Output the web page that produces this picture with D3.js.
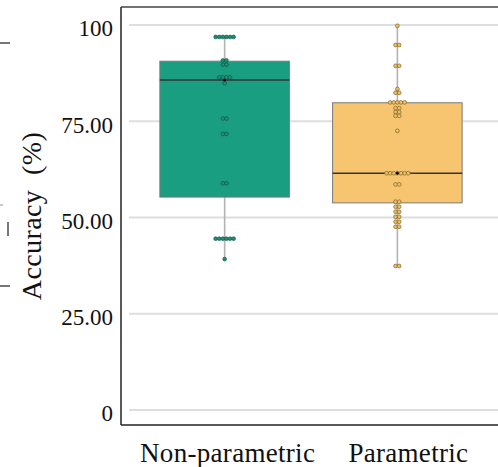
<!DOCTYPE html>
<html><head><meta charset="utf-8">
<script src="https://cdn.jsdelivr.net/npm/d3@7"></script>
<style>body{margin:0;background:#fff;overflow:hidden}</style></head>
<body>
<svg id="c" width="498" height="467"></svg>
<script>
// ---- data ----
const categories = ["Non-parametric", "Parametric"];
const nonParametric = [96.9,96.9,96.9,96.9,96.9,96.9, 90.8,90.8, 89.7,89.7, 86.4,86.4,86.4,86.4, 84.9,
  75.7,75.7, 71.7,71.7, 58.9,58.9, 44.5,44.5,44.5,44.5,44.5,44.5, 39.2];
const parametric = [99.8, 94.8,94.8, 89.4,89.4, 83.4, 82.4,82.4, 79.9,79.9,79.9,79.9,79.9,
  78.4,78.4, 77.4,77.4, 76.4,76.4, 72.5, 61.5,61.5,61.5,61.5,61.5,61.5,61.5, 58.6,58.6,
  54.1,54.1, 52.8,52.8, 51.5,51.5, 50.2,50.2, 48.9,48.9, 47.6,47.6, 37.4,37.4];
const q1 = [55.3, 53.8];
const medians = [85.7, 61.5];
const q3 = [90.6, 79.8];
const whiskerLow = [39.2, 37.4];
const whiskerHigh = [96.9, 99.8];
const yTicks = [0, 25, 50, 75, 100];
const yTickLabels = ["0", "25.00", "50.00", "75.00", "100"];
const yTitle = "Accuracy  (%)";
const fills = ["#1a9e82", "#f7c56f"];
const dotFills = ["#1f8f76", "#efc063"];
const dotStrokes = ["#0d4f40", "#6b5524"];

// ---- layout ----
const svg = d3.select("#c");
const fLeft = 121, fTop = 7, fBottom = 425, fRight = 498;
const y = d3.scaleLinear().domain([0, 100]).range([410, 25]);
const x = d3.scaleBand().domain(categories).range([121, 501]).paddingInner(0.25).paddingOuter(0.225);
const serif = "'Liberation Serif','Times New Roman',serif";
const labelShift = [3, 11];

// fragments of neighbouring panel at the left edge
const frag = svg.append("g").attr("stroke", "#555").attr("stroke-width", 1.6);
frag.append("line").attr("x1", 0).attr("x2", 10).attr("y1", 43).attr("y2", 43);
frag.append("line").attr("x1", 0).attr("x2", 3).attr("y1", 205).attr("y2", 205).attr("stroke", "#bbb");
frag.append("line").attr("x1", 8).attr("x2", 8).attr("y1", 222).attr("y2", 236);
frag.append("line").attr("x1", 0).attr("x2", 10).attr("y1", 286).attr("y2", 286);

// gridlines
svg.append("g").selectAll("line").data(yTicks).join("line")
  .attr("x1", 129).attr("x2", fRight)
  .attr("y1", d => y(d)).attr("y2", d => y(d))
  .attr("stroke", "#dedede").attr("stroke-width", 2);

// y axis (labels only; frame drawn separately)
const yAxis = d3.axisLeft(y).tickValues(yTicks).tickSize(0).tickPadding(0)
  .tickFormat((d, i) => yTickLabels[i]);
const ya = svg.append("g").attr("transform", `translate(113,0)`).call(yAxis);
ya.select(".domain").remove();
ya.selectAll("text").attr("font-family", serif).attr("font-size", 23).attr("fill", "#111")
  .attr("dy", "0.47em").attr("x", 0);

// y title
svg.append("text").attr("transform", "translate(41,216) rotate(-90)")
  .attr("text-anchor", "middle").attr("font-family", serif).attr("font-size", 28)
  .attr("letter-spacing", 0.4)
  .attr("fill", "#111").style("white-space", "pre").text(yTitle);

// boxes
const cats = categories.map((c, i) => ({c, i}));
const g = svg.append("g");
g.selectAll("line.wh").data(cats).join("line").attr("class", "wh")
  .attr("x1", d => x(d.c) + x.bandwidth() / 2).attr("x2", d => x(d.c) + x.bandwidth() / 2)
  .attr("y1", d => y(whiskerLow[d.i])).attr("y2", d => y(whiskerHigh[d.i]))
  .attr("stroke", "#b3b3b3").attr("stroke-width", 1.6);
g.selectAll("rect").data(cats).join("rect")
  .attr("x", d => x(d.c)).attr("width", x.bandwidth())
  .attr("y", d => y(q3[d.i])).attr("height", d => y(q1[d.i]) - y(q3[d.i]))
  .attr("fill", d => fills[d.i]).attr("stroke", "#7a7a7a").attr("stroke-width", 1);
g.selectAll("line.med").data(cats).join("line").attr("class", "med")
  .attr("x1", d => x(d.c)).attr("x2", d => x(d.c) + x.bandwidth())
  .attr("y1", d => y(medians[d.i])).attr("y2", d => y(medians[d.i]))
  .attr("stroke", "#333").attr("stroke-width", 1.5);

// swarm dots
const r = 1.9, sp = 3.6;
[nonParametric, parametric].forEach((vals, i) => {
  const cx = x(categories[i]) + x.bandwidth() / 2;
  const groups = d3.groups(vals, v => v);
  const pts = [];
  groups.forEach(([v, arr]) => arr.forEach((_, k) => pts.push({v, off: (k - (arr.length - 1) / 2) * sp})));
  svg.append("g").selectAll("circle").data(pts).join("circle")
    .attr("cx", d => cx + d.off).attr("cy", d => y(d.v)).attr("r", r)
    .attr("fill", dotFills[i]).attr("stroke", dotStrokes[i]).attr("stroke-width", 0.6);
  svg.append("circle").attr("cx", cx).attr("cy", y(medians[i])).attr("r", 1.4).attr("fill", "#000");
});

// frame
const fr = svg.append("g").attr("stroke", "#222").attr("fill", "none");
fr.append("line").attr("x1", fLeft).attr("x2", fLeft).attr("y1", fTop).attr("y2", fBottom).attr("stroke-width", 1.5);
fr.append("line").attr("x1", fLeft).attr("x2", fRight).attr("y1", fBottom).attr("y2", fBottom).attr("stroke-width", 1.5);
fr.append("line").attr("x1", fLeft).attr("x2", fRight).attr("y1", fTop).attr("y2", fTop).attr("stroke-width", 1.5).attr("stroke", "#444");

// x labels
svg.append("g").selectAll("text").data(categories).join("text")
  .attr("x", (d, i) => x(d) + x.bandwidth() / 2 + labelShift[i]).attr("y", 462)
  .attr("text-anchor", "middle").attr("font-family", serif).attr("font-size", 27)
  .attr("letter-spacing", 0.3).attr("fill", "#111").text(d => d);
</script>
</body></html>
